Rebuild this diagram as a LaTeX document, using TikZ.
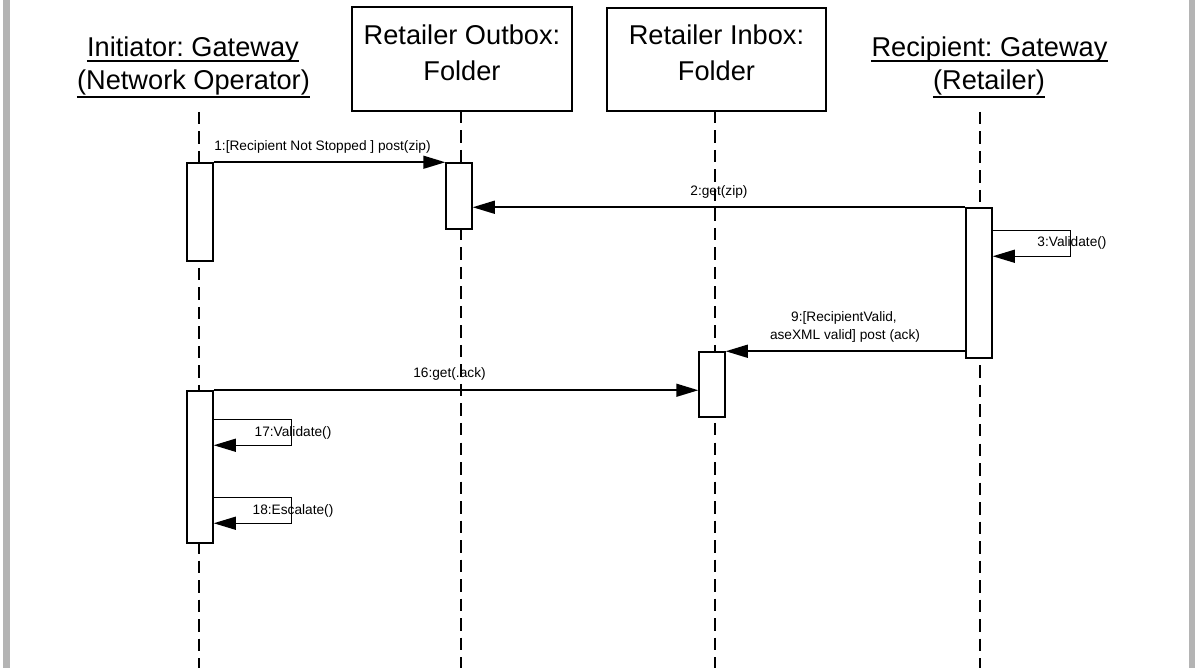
\documentclass[tikz,border=0pt]{standalone}
\usepackage{fontspec}
\setmainfont{Liberation Sans}
\usetikzlibrary{arrows.meta,calc}
\definecolor{bandgray}{RGB}{180,180,180}
\tikzset{
  lifeline/.style={line width=1.8pt, dash pattern=on 12.5pt off 7pt},
  act/.style={draw, fill=white, line width=1.5pt, minimum width=26pt, inner sep=0pt},
  objbox/.style={draw, fill=white, line width=1.5pt, inner sep=0pt},
  msg/.style={line width=1.5pt, -{Triangle[length=22pt,width=13pt]}},
  selfline/.style={line width=1.2pt, -{Triangle[length=22pt,width=13pt]}},
  lbl/.style={font=\fontsize{13.7}{16}\selectfont\frenchspacing, inner sep=0pt, anchor=base},
  hdr/.style={font=\fontsize{27.2}{30}\selectfont\frenchspacing, inner sep=0pt, anchor=base},
  uline/.style={line width=1.5pt}
}
\begin{document}
\frenchspacing
\begin{tikzpicture}[x=1pt,y=-1pt]
\useasboundingbox (0,0) rectangle (1195,668);
\fill[white] (0,0) rectangle (1195,668);
\fill[bandgray] (3,0) rectangle (10,668);
\fill[bandgray] (1189,0) rectangle (1195,668);

% headers (lifeline heads)
\node[hdr] (h1a) at (193,57) {Initiator: Gateway};
\node[hdr] (h1b) at (193.5,90) {(Network Operator)};
\draw[uline] ($(h1a.base west)+(0,4)$) -- ($(h1a.base east)+(0,4)$);
\draw[uline] ($(h1b.base west)+(0,7)$) -- ($(h1b.base east)+(0,7)$);

\node[objbox, minimum width=220pt, minimum height=104pt] (ob) at (462,59) {};
\node[hdr] (obt1) at (462,45) {Retailer Outbox:};
\node[hdr] (obt2) at (462,81) {Folder};

\node[objbox, minimum width=219pt, minimum height=103pt] (ib) at (716.5,59.5) {};
\node[hdr] (ibt1) at (716.5,45) {Retailer Inbox:};
\node[hdr] (ibt2) at (716.5,81) {Folder};

\node[hdr] (h4a) at (989.5,57) {Recipient: Gateway};
\node[hdr] (h4b) at (989,90) {(Retailer)};
\draw[uline] ($(h4a.base west)+(0,4)$) -- ($(h4a.base east)+(0,4)$);
\draw[uline] ($(h4b.base west)+(0,7)$) -- ($(h4b.base east)+(0,7)$);

% lifelines
\coordinate (l1t) at (199,112);
\coordinate (l1b) at (199,668);
\coordinate (l2t) at (461,111);
\coordinate (l2b) at (461,668);
\coordinate (l3t) at (715,111);
\coordinate (l3b) at (715,668);
\coordinate (l4t) at (980,112);
\coordinate (l4b) at (980,668);
\draw[lifeline] (l1t) -- (l1b);
\draw[lifeline] (l2t) -- (l2b);
\draw[lifeline] (l3t) -- (l3b);
\draw[lifeline] (l4t) -- (l4b);

% activations
\node[act, minimum height=98pt] (a1) at (200,212) {};
\node[act, minimum height=66pt] (o1) at (459,196) {};
\node[act, minimum height=150pt] (r1) at (979,283) {};
\node[act, minimum height=65pt] (i1) at (712,384.5) {};
\node[act, minimum height=152pt] (a2) at (200,467) {};

% messages
\draw[msg] (a1.north east) -- (o1.north west);
\node[lbl] (m1) at (322.5,150.5) {1:[Recipient Not Stopped ] post(zip)};

\draw[msg] (r1.north west) -- (o1.east |- r1.north west);
\node[lbl] (m2) at (719,196) {2:get(zip)};

\draw[selfline] ($(r1.north east)+(0,23)$) -- ++(78,0) -- ++(0,26) -- ($(r1.north east)+(0,49)$);
\node[lbl] (m3) at (1072,247) {3:Validate()};

\draw[msg] (r1.west |- i1.north east) -- (i1.north east);
\node[lbl] (m9a) at (844,322) {9:[RecipientValid,};
\node[lbl] (m9b) at (845,340) {aseXML valid] post (ack)};

\draw[msg] (a2.north east) -- (i1.west |- a2.north east);
\node[lbl] (m16) at (449.5,377.5) {16:get(.ack)};

\draw[selfline] ($(a2.north east)+(0,29)$) -- ++(78,0) -- ++(0,26) -- ($(a2.north east)+(0,55)$);
\node[lbl] (m17) at (293,436.5) {17:Validate()};

\draw[selfline] ($(a2.north east)+(0,107)$) -- ++(78,0) -- ++(0,26) -- ($(a2.north east)+(0,133)$);
\node[lbl] (m18) at (293,514.5) {18:Escalate()};
\end{tikzpicture}
\end{document}
